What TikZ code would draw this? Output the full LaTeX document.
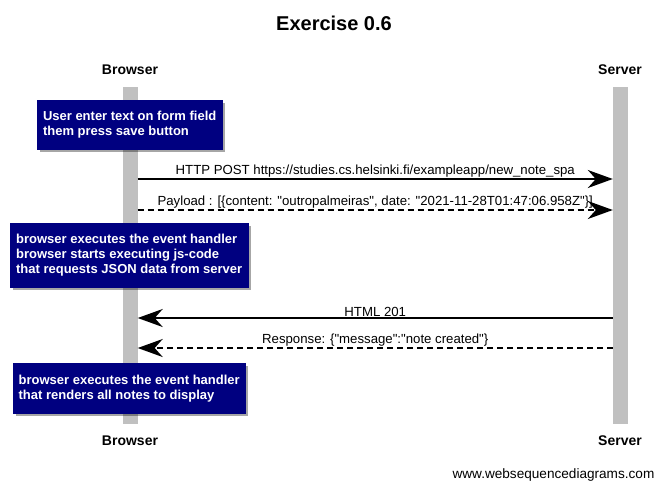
\documentclass[tikz,border=0pt]{standalone}
\usepackage{fontspec}
\setmainfont{Liberation Sans}
\usepackage{xcolor}
\usetikzlibrary{arrows.meta,positioning,calc,shadows}
\definecolor{notenavy}{RGB}{0,0,128}
\definecolor{lifegray}{RGB}{192,192,192}
\newcommand{\qt}{\textquotedbl}

\tikzset{
  actor/.style={font=\fontsize{14}{16}\selectfont\bfseries},
  lifeline/.style={fill=lifegray, draw=none, minimum width=15pt, minimum height=337pt, inner sep=0pt, anchor=north},
  notebox/.style={fill=notenavy, draw=notenavy, text=white, align=left, anchor=north west,
    font=\fontsize{13}{15}\selectfont\bfseries, inner sep=0pt,
    drop shadow={shadow xshift=3pt, shadow yshift=-3pt, fill=black, opacity=0.35}},
  msg/.style={-{Stealth[length=25pt,width=18pt,inset=8pt]}, line width=1.6pt},
  reply/.style={msg, dash pattern=on 6pt off 4pt},
  msglabel/.style={font=\fontsize{13.2}{15}\selectfont, above, inner sep=1pt}
}

\begin{document}
\begin{tikzpicture}[x=1pt, y=-1pt]
    \useasboundingbox (0,0) rectangle (668,491);

    % Title
    \node[font=\fontsize{20}{24}\selectfont\bfseries] (title) at (334,23) {Exercise 0.6};

    % Participants
    \node[actor] (bTop) at (130,70) {Browser};
    \node[actor] (sTop) at (620,70) {Server};
    \node[actor] (bBot) at (130,441) {Browser};
    \node[actor] (sBot) at (620,441) {Server};

    % Lifelines
    \node[lifeline] (bLife) at (130,87) {};
    \node[lifeline] (sLife) at (620.5,87) {};

    % Notes
    \node[notebox, minimum width=185pt, minimum height=49pt] (note1) at (37,100)
      {User enter text on form field\\them press save button};
    \node[notebox, minimum width=238pt, minimum height=64pt] (note2) at (10,223)
      {browser executes the event handler\\browser starts executing js-code\\that requests JSON data from server};
    \node[notebox, minimum width=232pt, minimum height=50pt] (note3) at (13,363)
      {browser executes the event handler\\that renders all notes to display};

    % Messages
    \coordinate (m1) at (0,179);
    \coordinate (m2) at (0,210);
    \coordinate (m3) at (0,318);
    \coordinate (m4) at (0,348);
    \draw[msg] (bLife.east |- m1) -- node[msglabel] {HTTP POST https://studies.cs.helsinki.fi/exampleapp/new\_note\_spa} (sLife.west |- m1);
    \draw[reply] (bLife.east |- m2) -- node[msglabel] {Payload : [\{content: \qt outropalmeiras\qt, date: \qt 2021-11-28T01:47:06.958Z\qt\}]} (sLife.west |- m2);
    \draw[msg] (sLife.west |- m3) -- node[msglabel] {HTML 201} (bLife.east |- m3);
    \draw[reply] (sLife.west |- m4) -- node[msglabel] {Response: \{\qt message\qt:\qt note created\qt\}} (bLife.east |- m4);

    % Footer
    \node[font=\fontsize{13.6}{15}\selectfont, anchor=west] (wsd) at (449,475) {www.websequencediagrams.com};
\end{tikzpicture}
\end{document}
